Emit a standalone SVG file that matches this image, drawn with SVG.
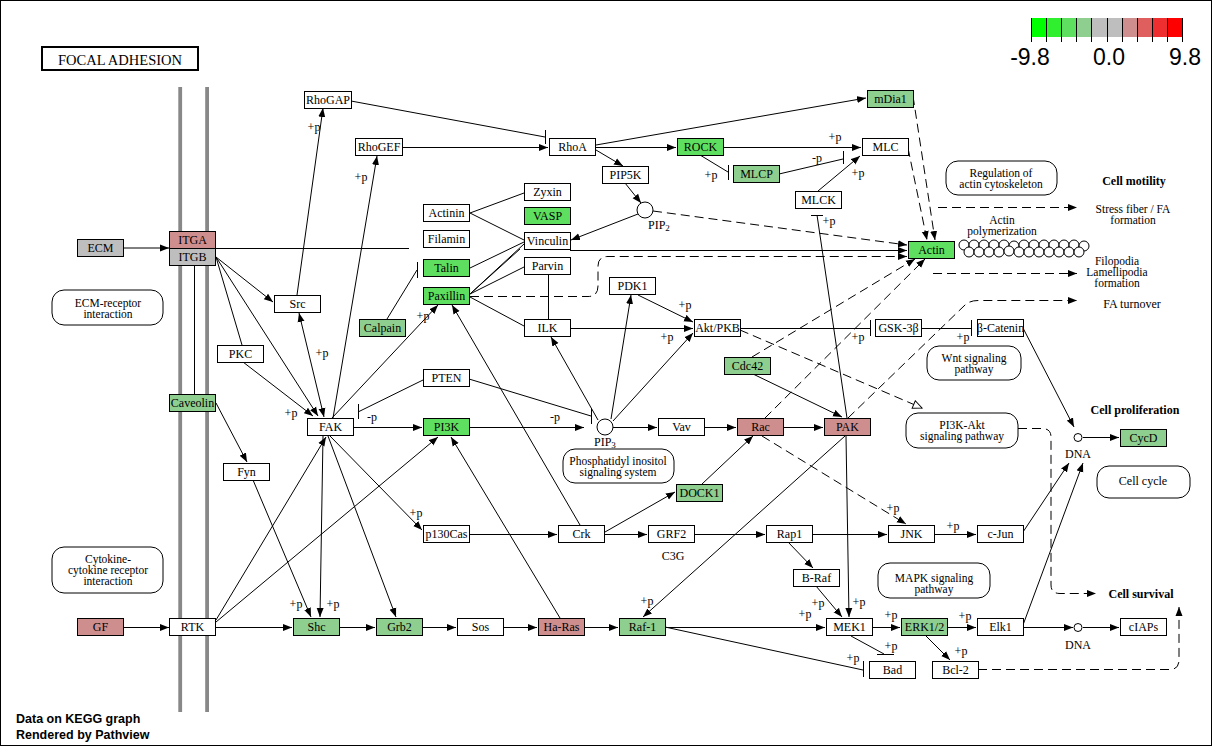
<svg xmlns="http://www.w3.org/2000/svg" width="1213" height="746" viewBox="0 0 1213 746">
<style>
  .n rect{stroke:#000;stroke-width:1}
  .n text,.t{font-family:"Liberation Serif","Times New Roman",serif;font-size:12px;text-anchor:middle;fill:#000}
  .m{font-size:11.5px}
  .b{font-weight:bold}
  .w{fill:#fff}.g1{fill:#5fdf5f}.g2{fill:#8ece8e}.r1{fill:#ce8e8e}.gr{fill:#bebebe}
  .c line,.c path{stroke:#000;stroke-width:1;fill:none}
  .c .d{stroke-dasharray:9 5}
  .box{fill:#fff;stroke:#000;stroke-width:1}
  .leg{font-family:"Liberation Sans",Arial,sans-serif;font-size:23px;text-anchor:middle;fill:#000}
  .foot{font-family:"Liberation Sans",Arial,sans-serif;font-size:12.5px;font-weight:bold;fill:#000}
</style>
<defs>
  <marker id="a" markerWidth="10" markerHeight="8" refX="9" refY="4" orient="auto-start-reverse" markerUnits="userSpaceOnUse">
    <path d="M0,0.5 L9,4 L0,7.5 Z" fill="#000"/>
  </marker>
  <marker id="o" markerWidth="12" markerHeight="10" refX="10" refY="5" orient="auto" markerUnits="userSpaceOnUse">
    <path d="M1,1 L10,5 L1,9 Z" fill="#fff" stroke="#000"/>
  </marker>
</defs>
<rect x="0" y="0" width="1213" height="746" fill="#fff"/>
<rect x="0.5" y="0.5" width="1211" height="745" fill="none" stroke="#000"/>

<!-- title -->
<g id="title">
  <rect x="42" y="47" width="156" height="23" fill="#fff" stroke="#000" stroke-width="2"/>
  <text class="t" x="120" y="65" style="font-size:14.5px" textLength="124">FOCAL ADHESION</text>
</g>

<!-- cell membrane -->
<g id="membrane" fill="#888">
  <rect x="178.3" y="87" width="3.8" height="625"/>
  <rect x="205.2" y="87" width="3.8" height="625"/>
</g>

<!-- legend -->
<g id="legend">
  <rect x="1031" y="18" width="15.2" height="19" fill="#00ff00"/>
  <rect x="1046.2" y="18" width="15.2" height="19" fill="#2fef2f"/>
  <rect x="1061.4" y="18" width="15.2" height="19" fill="#5fdf5f"/>
  <rect x="1076.6" y="18" width="15.2" height="19" fill="#8ece8e"/>
  <rect x="1091.8" y="18" width="15.2" height="19" fill="#bebebe"/>
  <rect x="1107" y="18" width="15.2" height="19" fill="#bebebe"/>
  <rect x="1122.2" y="18" width="15.2" height="19" fill="#ce8e8e"/>
  <rect x="1137.4" y="18" width="15.2" height="19" fill="#df5f5f"/>
  <rect x="1152.6" y="18" width="15.2" height="19" fill="#ef2f2f"/>
  <rect x="1167.8" y="18" width="15.2" height="19" fill="#ff0000"/>
  <g stroke="#000" stroke-width="1">
    <line x1="1031.5" y1="18" x2="1031.5" y2="42"/><line x1="1046.5" y1="18" x2="1046.5" y2="42"/>
    <line x1="1061.5" y1="18" x2="1061.5" y2="42"/><line x1="1076.5" y1="18" x2="1076.5" y2="42"/>
    <line x1="1091.5" y1="18" x2="1091.5" y2="42"/><line x1="1107.5" y1="18" x2="1107.5" y2="42"/>
    <line x1="1122.5" y1="18" x2="1122.5" y2="42"/><line x1="1137.5" y1="18" x2="1137.5" y2="42"/>
    <line x1="1152.5" y1="18" x2="1152.5" y2="42"/><line x1="1167.5" y1="18" x2="1167.5" y2="42"/>
    <line x1="1182.5" y1="18" x2="1182.5" y2="42"/>
  </g>
  <text class="leg" x="1030" y="65">-9.8</text>
  <text class="leg" x="1109" y="65">0.0</text>
  <text class="leg" x="1185" y="65">9.8</text>
</g>

<!-- pathway map boxes and free labels -->
<g id="maps">
  <rect class="box" x="52" y="290" width="111" height="35" rx="12"/>
  <text class="t m" x="108" y="307">ECM-receptor</text><text class="t m" x="108" y="318">interaction</text>
  <rect class="box" x="52" y="547" width="111" height="46" rx="12"/>
  <text class="t m" x="108" y="563">Cytokine-</text><text class="t m" x="108" y="574">cytokine receptor</text><text class="t m" x="108" y="585">interaction</text>
  <rect class="box" x="946" y="161" width="111" height="34" rx="12"/>
  <text class="t m" x="1001" y="177">Regulation of</text><text class="t m" x="1001" y="188">actin cytoskeleton</text>
  <rect class="box" x="927" y="346" width="94" height="34" rx="12"/>
  <text class="t m" x="974" y="362">Wnt signaling</text><text class="t m" x="974" y="373">pathway</text>
  <rect class="box" x="906" y="413" width="112" height="35" rx="12"/>
  <text class="t m" x="962" y="429">PI3K-Akt</text><text class="t m" x="962" y="440">signaling pathway</text>
  <rect class="box" x="1097" y="466" width="93" height="32" rx="12"/>
  <text class="t" x="1143" y="485">Cell cycle</text>
  <rect class="box" x="563" y="449" width="111" height="34" rx="12"/>
  <text class="t m" x="618" y="465">Phosphatidyl inositol</text><text class="t m" x="618" y="476">signaling system</text>
  <rect class="box" x="878" y="563" width="112" height="35" rx="12"/>
  <text class="t m" x="934" y="582">MAPK signaling</text><text class="t m" x="934" y="593">pathway</text>

  <text class="t b" x="1134" y="185">Cell motility</text>
  <text class="t m" x="1133" y="213">Stress fiber / FA</text><text class="t m" x="1133" y="224">formation</text>
  <text class="t m" x="1002" y="224">Actin</text><text class="t m" x="1002" y="235">polymerization</text>
  <text class="t m" x="1117" y="265">Filopodia</text><text class="t m" x="1117" y="276">Lamellipodia</text><text class="t m" x="1117" y="287">formation</text>
  <text class="t" x="1132" y="308">FA turnover</text>
  <text class="t b" x="1135" y="414">Cell proliferation</text>
  <text class="t b" x="1141" y="598">Cell survival</text>
  <text class="t" x="673" y="560">C3G</text>
</g>

<!-- actin filament -->
<g id="filament" fill="#fff" stroke="#000" stroke-width="1">
  <circle cx="964" cy="245" r="5"/><circle cx="974" cy="245" r="5"/><circle cx="984" cy="245" r="5"/><circle cx="994" cy="245" r="5"/>
  <circle cx="1004" cy="245" r="5"/><circle cx="1014" cy="246" r="5"/><circle cx="1024" cy="245" r="5"/><circle cx="1034" cy="245" r="5"/>
  <circle cx="1044" cy="245" r="5"/><circle cx="1054" cy="245" r="5"/><circle cx="1064" cy="245" r="5"/><circle cx="1074" cy="245" r="5"/>
  <circle cx="1084" cy="246" r="5"/>
  <circle cx="969" cy="252" r="5"/><circle cx="979" cy="252" r="5"/><circle cx="989" cy="252" r="5"/><circle cx="999" cy="252" r="5"/>
  <circle cx="1009" cy="251" r="5"/><circle cx="1019" cy="252" r="5"/><circle cx="1029" cy="252" r="5"/><circle cx="1039" cy="252" r="5"/>
  <circle cx="1049" cy="252" r="5"/><circle cx="1059" cy="252" r="5"/><circle cx="1069" cy="252" r="5"/><circle cx="1079" cy="252" r="5"/>
</g>

<!-- connectors -->
<g id="connectors" class="c">
  <line x1="123" y1="248" x2="169" y2="248" marker-end="url(#a)"/>
  <line x1="216" y1="248.5" x2="409" y2="248.5"/>
  <line x1="297" y1="295" x2="323" y2="108" marker-end="url(#a)"/>
  <line x1="333" y1="418" x2="377" y2="156" marker-end="url(#a)"/>
  <line x1="351" y1="101" x2="545" y2="137"/><line x1="545.5" y1="130" x2="545.5" y2="144"/>
  <line x1="402" y1="147.5" x2="548" y2="147.5" marker-end="url(#a)"/>
  <line x1="596" y1="145" x2="866" y2="98" marker-end="url(#a)"/>
  <line x1="596" y1="147.5" x2="676" y2="147.5" marker-end="url(#a)"/>
  <line x1="596" y1="150" x2="623" y2="166" marker-end="url(#a)"/>
  <line x1="723" y1="147.5" x2="861" y2="147.5" marker-end="url(#a)"/>
  <line x1="700" y1="155" x2="728" y2="172"/><line x1="728.5" y1="165" x2="728.5" y2="180"/>
  <line x1="779" y1="174" x2="843" y2="159"/><line x1="843.5" y1="151" x2="843.5" y2="164"/>
  <line x1="818" y1="191" x2="860" y2="156" marker-end="url(#a)"/>
  <line x1="625" y1="183" x2="641" y2="203" marker-end="url(#a)"/>
  <line x1="638" y1="214" x2="571" y2="240" marker-end="url(#a)"/>
  <line x1="470" y1="213" x2="524" y2="193"/>
  <line x1="470" y1="213" x2="524" y2="240"/>
  <line x1="470" y1="268" x2="524" y2="242"/>
  <line x1="470" y1="294" x2="524" y2="244"/>
  <line x1="470" y1="294" x2="520" y2="249"/>
  <line x1="470" y1="294" x2="524" y2="267"/>
  <line x1="470" y1="297" x2="524" y2="326"/>
  <line x1="548.5" y1="274" x2="548.5" y2="319"/>
  <line x1="570" y1="250.5" x2="907" y2="250.5" marker-end="url(#a)"/>
  <line x1="570" y1="328.5" x2="693" y2="328.5" marker-end="url(#a)"/>
  <line x1="638" y1="295" x2="693" y2="322" marker-end="url(#a)"/>
  <line x1="611" y1="419" x2="631" y2="295" marker-end="url(#a)"/>
  <line x1="613" y1="421" x2="693" y2="333" marker-end="url(#a)"/>
  <line x1="598" y1="420" x2="551" y2="337" marker-end="url(#a)"/>
  <line x1="613" y1="427.5" x2="657" y2="427.5" marker-end="url(#a)"/>
  <line x1="704" y1="427.5" x2="736" y2="427.5" marker-end="url(#a)"/>
  <line x1="783" y1="427.5" x2="823" y2="427.5" marker-end="url(#a)"/>
  <line x1="753" y1="374" x2="842" y2="417" marker-end="url(#a)"/>
  <line x1="702" y1="484" x2="753" y2="436" marker-end="url(#a)"/>
  <line x1="605" y1="532" x2="675" y2="492" marker-end="url(#a)"/>
  <line x1="740" y1="328.5" x2="870" y2="328.5"/><line x1="870.5" y1="320" x2="870.5" y2="336"/>
  <line x1="921" y1="328.5" x2="971" y2="328.5"/><line x1="971.5" y1="320" x2="971.5" y2="336"/>
  <line x1="1023" y1="328" x2="1074" y2="427" marker-end="url(#a)"/>
  <line x1="1083" y1="437.5" x2="1119" y2="437.5" marker-end="url(#a)"/>
  <line x1="1023" y1="532" x2="1069" y2="463" marker-end="url(#a)"/>
  <line x1="1023" y1="625" x2="1083" y2="463" marker-end="url(#a)"/>
  <line x1="847" y1="418" x2="817" y2="215"/><line x1="811" y1="215.5" x2="823" y2="215.5"/>
  <line x1="216" y1="257" x2="273" y2="302" marker-end="url(#a)"/>
  <line x1="216" y1="257" x2="242" y2="345"/>
  <line x1="216" y1="257" x2="318" y2="416" marker-end="url(#a)"/>
  <line x1="243" y1="362" x2="313" y2="416" marker-end="url(#a)"/>
  <line x1="299" y1="313" x2="324" y2="417" marker-start="url(#a)" marker-end="url(#a)"/>
  <line x1="194.5" y1="265" x2="194.5" y2="394"/>
  <line x1="216" y1="403" x2="247" y2="462" marker-end="url(#a)"/>
  <line x1="253" y1="480" x2="311" y2="617" marker-end="url(#a)"/>
  <line x1="323" y1="436" x2="320" y2="617" marker-end="url(#a)"/>
  <line x1="216" y1="620" x2="326" y2="437" marker-end="url(#a)"/>
  <line x1="216" y1="622" x2="438" y2="437" marker-end="url(#a)"/>
  <line x1="328" y1="436" x2="396" y2="617" marker-end="url(#a)"/>
  <line x1="330" y1="436" x2="422" y2="530" marker-end="url(#a)"/>
  <line x1="353" y1="427.5" x2="422" y2="427.5" marker-end="url(#a)"/>
  <line x1="423" y1="380" x2="358" y2="412"/><line x1="358.5" y1="404" x2="358.5" y2="419"/>
  <line x1="469" y1="379" x2="591" y2="416"/><line x1="591.5" y1="409" x2="591.5" y2="424"/>
  <line x1="469" y1="427.5" x2="584" y2="427.5" marker-end="url(#a)"/>
  <line x1="332" y1="418" x2="438" y2="305" marker-end="url(#a)"/>
  <line x1="387" y1="319" x2="417" y2="270"/><line x1="417.5" y1="262" x2="417.5" y2="278"/>
  <line x1="560" y1="618" x2="451" y2="437" marker-end="url(#a)"/>
  <line x1="580" y1="525" x2="452" y2="305" marker-end="url(#a)"/>
  <line x1="469" y1="534.5" x2="557" y2="534.5" marker-end="url(#a)"/>
  <line x1="604" y1="534.5" x2="647" y2="534.5" marker-end="url(#a)"/>
  <line x1="694" y1="534.5" x2="765" y2="534.5" marker-end="url(#a)"/>
  <line x1="812" y1="534.5" x2="887" y2="534.5" marker-end="url(#a)"/>
  <line x1="788" y1="542" x2="813" y2="568" marker-end="url(#a)"/>
  <line x1="816" y1="586" x2="842" y2="617" marker-end="url(#a)"/>
  <line x1="846" y1="436" x2="849" y2="617" marker-end="url(#a)"/>
  <line x1="665" y1="627.5" x2="825" y2="627.5" marker-end="url(#a)"/>
  <line x1="845" y1="436" x2="643" y2="617" marker-end="url(#a)"/>
  <line x1="934" y1="534.5" x2="976" y2="534.5" marker-end="url(#a)"/>
  <line x1="872" y1="627.5" x2="900" y2="627.5" marker-end="url(#a)"/>
  <line x1="948" y1="627.5" x2="976" y2="627.5" marker-end="url(#a)"/>
  <line x1="926" y1="636" x2="950" y2="660" marker-end="url(#a)"/>
  <line x1="851" y1="636" x2="884" y2="654"/><line x1="877" y1="654.5" x2="894" y2="654.5"/>
  <line x1="665" y1="627" x2="863" y2="670"/><line x1="863.5" y1="661" x2="863.5" y2="677"/>
  <line x1="1023" y1="627.5" x2="1073" y2="627.5" marker-end="url(#a)"/>
  <line x1="1083" y1="627.5" x2="1119" y2="627.5" marker-end="url(#a)"/>
  <line x1="123" y1="627.5" x2="169" y2="627.5" marker-end="url(#a)"/>
  <line x1="216" y1="627.5" x2="292" y2="627.5" marker-end="url(#a)"/>
  <line x1="339" y1="627.5" x2="375" y2="627.5" marker-end="url(#a)"/>
  <line x1="422" y1="627.5" x2="456" y2="627.5" marker-end="url(#a)"/>
  <line x1="503" y1="627.5" x2="537" y2="627.5" marker-end="url(#a)"/>
  <line x1="584" y1="627.5" x2="618" y2="627.5" marker-end="url(#a)"/>

  <!-- indirect effects -->
  <line class="d" x1="913" y1="96" x2="935" y2="240" marker-end="url(#a)"/>
  <line class="d" x1="908" y1="148" x2="927" y2="240" marker-end="url(#a)"/>
  <line class="d" x1="653" y1="211" x2="907" y2="245" marker-end="url(#a)"/>
  <path class="d" d="M470,296.5 H588 Q598,296.5 598,286 V266 Q598,256.5 608,256.5 H907" marker-end="url(#a)"/>
  <line class="d" x1="752" y1="357" x2="915" y2="259" marker-end="url(#a)"/>
  <line class="d" x1="765" y1="418" x2="925" y2="259" marker-end="url(#a)"/>
  <path class="d" d="M848,418 L965,305 Q970,300.5 978,300.5 H1077" marker-end="url(#a)"/>
  <line class="d" x1="762" y1="436" x2="906" y2="524" marker-end="url(#a)"/>
  <line class="d" x1="740" y1="330" x2="922" y2="408" marker-end="url(#o)"/>
  <path class="d" d="M1018,428.5 H1042 Q1051,428.5 1051,437 V585 Q1051,593.5 1060,593.5 H1096" marker-end="url(#a)"/>
  <path class="d" d="M978,669.5 H1170 Q1179,669.5 1179,660 V607" marker-end="url(#a)"/>
  <line class="d" x1="938" y1="207.5" x2="1077" y2="207.5" marker-end="url(#a)"/>
  <line class="d" x1="933" y1="273.5" x2="1077" y2="273.5" marker-end="url(#a)"/>
</g>

<!-- phosphorylation labels -->
<g id="labels" class="t">
  <text class="t" x="314" y="131">+p</text><text class="t" x="361" y="181">+p</text>
  <text class="t" x="835" y="141">+p</text><text class="t" x="817" y="162">-p</text>
  <text class="t" x="858" y="177">+p</text><text class="t" x="711" y="179">+p</text>
  <text class="t" x="829" y="225">+p</text><text class="t" x="423" y="320">+p</text>
  <text class="t" x="322" y="357">+p</text><text class="t" x="291" y="417">+p</text>
  <text class="t" x="372" y="421">-p</text><text class="t" x="555" y="421">-p</text>
  <text class="t" x="685" y="309">+p</text><text class="t" x="667" y="341">+p</text>
  <text class="t" x="858" y="341">+p</text><text class="t" x="963" y="341">+p</text>
  <text class="t" x="416" y="517">+p</text><text class="t" x="296" y="608">+p</text>
  <text class="t" x="333" y="608">+p</text><text class="t" x="647" y="605">+p</text>
  <text class="t" x="818" y="607">+p</text><text class="t" x="859" y="606">+p</text>
  <text class="t" x="805" y="618">+p</text><text class="t" x="891" y="619">+p</text>
  <text class="t" x="891" y="650">+p</text><text class="t" x="853" y="662">+p</text>
  <text class="t" x="893" y="512">+p</text><text class="t" x="953" y="530">+p</text>
  <text class="t" x="965" y="620">+p</text><text class="t" x="961" y="655">+p</text>
</g>

<!-- compounds -->
<g id="pip2">
  <circle cx="645" cy="210" r="8" fill="#fff" stroke="#000"/>
  <text class="t" x="648" y="229" style="text-anchor:start">PIP<tspan font-size="9" dy="2">2</tspan></text>
</g>
<g id="pip3">
  <circle cx="605" cy="427" r="8" fill="#fff" stroke="#000"/>
  <text class="t" x="594" y="446" style="text-anchor:start">PIP<tspan font-size="9" dy="2">3</tspan></text>
</g>
<g id="dna1">
  <circle cx="1078" cy="437.5" r="4" fill="#fff" stroke="#000"/>
  <text class="t" x="1078" y="458">DNA</text>
</g>
<g id="dna2">
  <circle cx="1078" cy="627.5" r="4" fill="#fff" stroke="#000"/>
  <text class="t" x="1078" y="649">DNA</text>
</g>

<!-- gene products -->
<g id="rhogap" class="n"><rect class="w" x="304.5" y="91.5" width="47" height="17"/><text x="328" y="104">RhoGAP</text></g>
<g id="rhogef" class="n"><rect class="w" x="355.5" y="138.5" width="47" height="17"/><text x="379" y="151">RhoGEF</text></g>
<g id="rhoa" class="n"><rect class="w" x="549.5" y="138.5" width="46" height="17"/><text x="572.5" y="151">RhoA</text></g>
<g id="rock" class="n"><rect class="g1" x="677.5" y="138.5" width="46" height="17"/><text x="700.5" y="151">ROCK</text></g>
<g id="mlc" class="n"><rect class="w" x="862.5" y="138.5" width="46" height="17"/><text x="885.5" y="151">MLC</text></g>
<g id="mdia1" class="n"><rect class="g2" x="867.5" y="90.5" width="46" height="17"/><text x="890.5" y="103">mDia1</text></g>
<g id="pip5k" class="n"><rect class="w" x="602.5" y="166.5" width="46" height="17"/><text x="625.5" y="179">PIP5K</text></g>
<g id="mlcp" class="n"><rect class="g2" x="733.5" y="165.5" width="46" height="17"/><text x="756.5" y="178">MLCP</text></g>
<g id="mlck" class="n"><rect class="w" x="795.5" y="191.5" width="46" height="17"/><text x="818.5" y="204">MLCK</text></g>
<g id="zyxin" class="n"><rect class="w" x="524.5" y="183.5" width="46" height="17"/><text x="547.5" y="196">Zyxin</text></g>
<g id="vasp" class="n"><rect class="g1" x="524.5" y="207.5" width="46" height="17"/><text x="547.5" y="220">VASP</text></g>
<g id="actinin" class="n"><rect class="w" x="423.5" y="204.5" width="46" height="17"/><text x="446.5" y="217">Actinin</text></g>
<g id="filamin" class="n"><rect class="w" x="423.5" y="230.5" width="46" height="17"/><text x="446.5" y="243">Filamin</text></g>
<g id="vinculin" class="n"><rect class="w" x="524.5" y="232.5" width="46" height="17"/><text x="547.5" y="245">Vinculin</text></g>
<g id="actin" class="n"><rect class="g1" x="908.5" y="241.5" width="46" height="17"/><text x="931.5" y="254">Actin</text></g>
<g id="talin" class="n"><rect class="g1" x="423.5" y="259.5" width="46" height="17"/><text x="446.5" y="272">Talin</text></g>
<g id="parvin" class="n"><rect class="w" x="524.5" y="257.5" width="46" height="17"/><text x="547.5" y="270">Parvin</text></g>
<g id="paxillin" class="n"><rect class="g1" x="423.5" y="287.5" width="46" height="17"/><text x="446.5" y="300">Paxillin</text></g>
<g id="pdk1" class="n"><rect class="w" x="609.5" y="277.5" width="46" height="17"/><text x="632.5" y="290">PDK1</text></g>
<g id="ecm" class="n"><rect class="gr" x="77.5" y="239.5" width="46" height="17"/><text x="100.5" y="252">ECM</text></g>
<g id="itga" class="n"><rect class="r1" x="169.5" y="231.5" width="46" height="17"/><text x="192.5" y="244">ITGA</text></g>
<g id="itgb" class="n"><rect class="gr" x="169.5" y="248.5" width="46" height="17"/><text x="192.5" y="261">ITGB</text></g>
<g id="src" class="n"><rect class="w" x="274.5" y="295.5" width="46" height="17"/><text x="297.5" y="308">Src</text></g>
<g id="calpain" class="n"><rect class="g2" x="359.5" y="319.5" width="46" height="17"/><text x="382.5" y="332">Calpain</text></g>
<g id="ilk" class="n"><rect class="w" x="524.5" y="319.5" width="46" height="17"/><text x="547.5" y="332">ILK</text></g>
<g id="akt" class="n"><rect class="w" x="694.5" y="319.5" width="46" height="17"/><text x="717.5" y="332">Akt/PKB</text></g>
<g id="gsk3b" class="n"><rect class="w" x="875.5" y="319.5" width="46" height="17"/><text x="898.5" y="332">GSK-3β</text></g>
<g id="bcatenin" class="n"><rect class="w" x="977.5" y="319.5" width="46" height="17"/><text x="1000.5" y="332">β-Catenin</text></g>
<g id="pkc" class="n"><rect class="w" x="217.5" y="345.5" width="46" height="17"/><text x="240.5" y="358">PKC</text></g>
<g id="cdc42" class="n"><rect class="g2" x="724.5" y="357.5" width="46" height="17"/><text x="747.5" y="370">Cdc42</text></g>
<g id="pten" class="n"><rect class="w" x="423.5" y="369.5" width="46" height="17"/><text x="446.5" y="382">PTEN</text></g>
<g id="caveolin" class="n"><rect class="g2" x="169.5" y="394.5" width="46" height="17"/><text x="192.5" y="407">Caveolin</text></g>
<g id="fak" class="n"><rect class="w" x="307.5" y="418.5" width="46" height="17"/><text x="330.5" y="431">FAK</text></g>
<g id="pi3k" class="n"><rect class="g1" x="423.5" y="418.5" width="46" height="17"/><text x="446.5" y="431">PI3K</text></g>
<g id="vav" class="n"><rect class="w" x="658.5" y="418.5" width="46" height="17"/><text x="681.5" y="431">Vav</text></g>
<g id="rac" class="n"><rect class="r1" x="737.5" y="418.5" width="46" height="17"/><text x="760.5" y="431">Rac</text></g>
<g id="pak" class="n"><rect class="r1" x="824.5" y="418.5" width="46" height="17"/><text x="847.5" y="431">PAK</text></g>
<g id="cycd" class="n"><rect class="g2" x="1120.5" y="429.5" width="46" height="17"/><text x="1143.5" y="442">CycD</text></g>
<g id="fyn" class="n"><rect class="w" x="223.5" y="463.5" width="46" height="17"/><text x="246.5" y="476">Fyn</text></g>
<g id="dock1" class="n"><rect class="g2" x="676.5" y="484.5" width="46" height="17"/><text x="699.5" y="497">DOCK1</text></g>
<g id="p130cas" class="n"><rect class="w" x="423.5" y="525.5" width="46" height="17"/><text x="446.5" y="538">p130Cas</text></g>
<g id="crk" class="n"><rect class="w" x="558.5" y="525.5" width="46" height="17"/><text x="581.5" y="538">Crk</text></g>
<g id="grf2" class="n"><rect class="w" x="648.5" y="525.5" width="46" height="17"/><text x="671.5" y="538">GRF2</text></g>
<g id="rap1" class="n"><rect class="w" x="766.5" y="525.5" width="46" height="17"/><text x="789.5" y="538">Rap1</text></g>
<g id="jnk" class="n"><rect class="w" x="888.5" y="525.5" width="46" height="17"/><text x="911.5" y="538">JNK</text></g>
<g id="cjun" class="n"><rect class="w" x="977.5" y="525.5" width="46" height="17"/><text x="1000.5" y="538">c-Jun</text></g>
<g id="braf" class="n"><rect class="w" x="793.5" y="569.5" width="46" height="17"/><text x="816.5" y="582">B-Raf</text></g>
<g id="gf" class="n"><rect class="r1" x="77.5" y="618.5" width="46" height="17"/><text x="100.5" y="631">GF</text></g>
<g id="rtk" class="n"><rect class="w" x="169.5" y="618.5" width="46" height="17"/><text x="192.5" y="631">RTK</text></g>
<g id="shc" class="n"><rect class="g2" x="293.5" y="618.5" width="46" height="17"/><text x="316.5" y="631">Shc</text></g>
<g id="grb2" class="n"><rect class="g2" x="376.5" y="618.5" width="46" height="17"/><text x="399.5" y="631">Grb2</text></g>
<g id="sos" class="n"><rect class="w" x="457.5" y="618.5" width="46" height="17"/><text x="480.5" y="631">Sos</text></g>
<g id="haras" class="n"><rect class="r1" x="538.5" y="618.5" width="46" height="17"/><text x="561.5" y="631">Ha-Ras</text></g>
<g id="raf1" class="n"><rect class="g2" x="619.5" y="618.5" width="46" height="17"/><text x="642.5" y="631">Raf-1</text></g>
<g id="mek1" class="n"><rect class="w" x="826.5" y="618.5" width="46" height="17"/><text x="849.5" y="631">MEK1</text></g>
<g id="erk" class="n"><rect class="g2" x="901.5" y="618.5" width="46" height="17"/><text x="924.5" y="631">ERK1/2</text></g>
<g id="elk1" class="n"><rect class="w" x="977.5" y="618.5" width="46" height="17"/><text x="1000.5" y="631">Elk1</text></g>
<g id="ciaps" class="n"><rect class="w" x="1120.5" y="618.5" width="46" height="17"/><text x="1143.5" y="631">cIAPs</text></g>
<g id="bad" class="n"><rect class="w" x="869.5" y="661.5" width="46" height="17"/><text x="892.5" y="674">Bad</text></g>
<g id="bcl2" class="n"><rect class="w" x="932.5" y="661.5" width="46" height="17"/><text x="955.5" y="674">Bcl-2</text></g>

<g id="footer">
  <text class="foot" x="16" y="723">Data on KEGG graph</text>
  <text class="foot" x="16" y="739">Rendered by Pathview</text>
</g>
</svg>
